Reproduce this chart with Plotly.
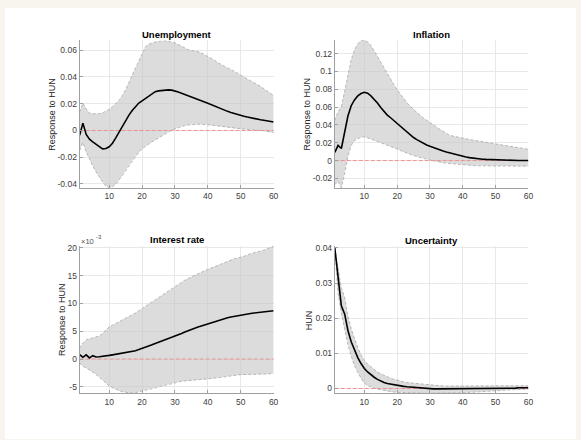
import plotly.graph_objects as go

# Forecast horizon (periods after the shock)
horizon = list(range(1, 61))

# --- Unemployment response ---
unemp_mean = [-0.0036, 0.0055, -0.0030, -0.0065, -0.0085, -0.0100, -0.0120, -0.0137, -0.0135, -0.0122,
              -0.0095, -0.0055, -0.0010, 0.0035, 0.0075, 0.0115, 0.0150, 0.0182, 0.0205, 0.0222,
              0.0240, 0.0260, 0.0278, 0.0290, 0.0296, 0.0300, 0.0304, 0.0304, 0.0302, 0.0297,
              0.0288, 0.0278, 0.0268, 0.0258, 0.0249, 0.0240, 0.0232, 0.0223, 0.0213, 0.0204,
              0.0193, 0.0181, 0.0170, 0.0160, 0.0152, 0.0143, 0.0135, 0.0127, 0.0120, 0.0113,
              0.0107, 0.0101, 0.0095, 0.0089, 0.0084, 0.0080, 0.0077, 0.0073, 0.0069, 0.0064]
unemp_upper = [0.0137, 0.0205, 0.0160, 0.0130, 0.0125, 0.0124, 0.0126, 0.0132, 0.0142, 0.0158,
               0.0178, 0.0200, 0.0225, 0.0262, 0.0305, 0.0360, 0.0415, 0.0470, 0.0525, 0.0580,
               0.0625, 0.0645, 0.0656, 0.0662, 0.0666, 0.0670, 0.0670, 0.0668, 0.0664, 0.0655,
               0.0643, 0.0628, 0.0614, 0.0604, 0.0598, 0.0594, 0.0590, 0.0580, 0.0568, 0.0556,
               0.0542, 0.0526, 0.0508, 0.0493, 0.0480, 0.0468, 0.0457, 0.0442, 0.0425, 0.0410,
               0.0396, 0.0385, 0.0372, 0.0360, 0.0347, 0.0330, 0.0313, 0.0295, 0.0277, 0.0262]
unemp_lower = [-0.0150, -0.0090, -0.0160, -0.0215, -0.0265, -0.0310, -0.0350, -0.0385, -0.0415, -0.0428,
               -0.0420, -0.0400, -0.0370, -0.0335, -0.0300, -0.0262, -0.0225, -0.0192, -0.0162, -0.0137,
               -0.0118, -0.0100, -0.0085, -0.0070, -0.0055, -0.0040, -0.0025, -0.0010, 0.0002, 0.0012,
               0.0022, 0.0031, 0.0037, 0.0041, 0.0044, 0.0046, 0.0047, 0.0047, 0.0046, 0.0043,
               0.0040, 0.0037, 0.0034, 0.0031, 0.0027, 0.0023, 0.0020, 0.0016, 0.0013, 0.0010,
               0.0008, 0.0006, 0.0005, 0.0004, 0.0003, 0.0001, -0.0002, -0.0006, -0.0011, -0.0016]

# --- Inflation response ---
infl_mean = [0.0092, 0.0170, 0.0135, 0.0300, 0.0500, 0.0615, 0.0680, 0.0725, 0.0752, 0.0765,
             0.0755, 0.0725, 0.0688, 0.0645, 0.0595, 0.0548, 0.0510, 0.0480, 0.0448, 0.0412,
             0.0378, 0.0345, 0.0312, 0.0285, 0.0258, 0.0235, 0.0213, 0.0193, 0.0175, 0.0160,
             0.0145, 0.0130, 0.0118, 0.0106, 0.0095, 0.0085, 0.0074, 0.0064, 0.0055, 0.0046,
             0.0039, 0.0033, 0.0027, 0.0022, 0.0018, 0.0015, 0.0013, 0.0011, 0.0009, 0.0007,
             0.0006, 0.0005, 0.0004, 0.0003, 0.0002, 0.0002, 0.0001, 0.0001, 0.0000, 0.0000]
infl_upper = [0.0450, 0.0550, 0.0600, 0.0780, 0.0980, 0.1130, 0.1240, 0.1310, 0.1345, 0.1348,
              0.1330, 0.1290, 0.1230, 0.1165, 0.1100, 0.1035, 0.0970, 0.0910, 0.0852, 0.0795,
              0.0742, 0.0692, 0.0648, 0.0608, 0.0572, 0.0538, 0.0507, 0.0478, 0.0450, 0.0425,
              0.0400, 0.0375, 0.0350, 0.0325, 0.0300, 0.0285, 0.0274, 0.0265, 0.0256, 0.0248,
              0.0242, 0.0236, 0.0230, 0.0223, 0.0217, 0.0211, 0.0204, 0.0198, 0.0192, 0.0186,
              0.0180, 0.0174, 0.0168, 0.0162, 0.0156, 0.0150, 0.0144, 0.0138, 0.0132, 0.0126]
infl_lower = [-0.0270, -0.0233, -0.0305, -0.0150, 0.0050, 0.0170, 0.0225, 0.0248, 0.0262, 0.0267,
              0.0258, 0.0243, 0.0228, 0.0215, 0.0203, 0.0190, 0.0176, 0.0162, 0.0146, 0.0130,
              0.0114, 0.0097, 0.0081, 0.0068, 0.0056, 0.0044, 0.0033, 0.0024, 0.0015, 0.0006,
              -0.0003, -0.0011, -0.0018, -0.0024, -0.0030, -0.0034, -0.0038, -0.0041, -0.0044, -0.0047,
              -0.0050, -0.0053, -0.0056, -0.0058, -0.0059, -0.0060, -0.0061, -0.0062, -0.0063, -0.0063,
              -0.0063, -0.0064, -0.0064, -0.0064, -0.0064, -0.0064, -0.0064, -0.0063, -0.0063, -0.0063]

# --- Interest rate response (in units of 10^-3) ---
rate_mean_e3 = [0.77, 0.30, 0.75, 0.20, 0.60, 0.36, 0.40, 0.45, 0.55, 0.65,
                0.75, 0.85, 0.97, 1.05, 1.10, 1.20, 1.32, 1.50, 1.70, 1.95,
                2.15, 2.35, 2.55, 2.80, 3.05, 3.25, 3.48, 3.70, 3.90, 4.10,
                4.35, 4.60, 4.85, 5.10, 5.35, 5.55, 5.75, 5.95, 6.15, 6.35,
                6.55, 6.75, 6.95, 7.15, 7.30, 7.45, 7.58, 7.70, 7.80, 7.90,
                8.00, 8.10, 8.20, 8.28, 8.36, 8.44, 8.50, 8.56, 8.62, 8.68]
rate_upper_e3 = [1.96, 2.86, 3.45, 3.60, 3.75, 3.95, 4.16, 4.60, 5.20, 5.80,
                 6.10, 6.40, 6.70, 7.05, 7.40, 7.65, 7.90, 8.30, 8.70, 9.10,
                 9.50, 9.90, 10.30, 10.70, 11.10, 11.50, 11.90, 12.30, 12.70, 13.10,
                 13.50, 13.90, 14.20, 14.50, 14.80, 15.05, 15.30, 15.60, 15.90, 16.15,
                 16.40, 16.65, 16.90, 17.10, 17.40, 17.65, 17.90, 18.05, 18.20, 18.30,
                 18.50, 18.75, 19.00, 19.15, 19.30, 19.40, 19.60, 19.85, 20.10, 20.35]
rate_lower_e3 = [-0.70, -1.30, -1.60, -1.90, -2.35, -2.80, -3.25, -3.70, -4.30, -4.90,
                 -5.20, -5.50, -5.70, -5.90, -6.00, -6.10, -6.15, -6.05, -5.95, -5.80,
                 -5.65, -5.50, -5.40, -5.25, -5.05, -4.90, -4.75, -4.55, -4.40, -4.25,
                 -4.10, -4.00, -3.95, -3.90, -3.85, -3.80, -3.75, -3.70, -3.68, -3.65,
                 -3.60, -3.50, -3.40, -3.30, -3.20, -3.10, -3.00, -2.92, -2.85, -2.80,
                 -2.80, -2.80, -2.80, -2.80, -2.80, -2.78, -2.75, -2.70, -2.65, -2.60]

# --- Uncertainty response ---
unc_mean = [0.0400, 0.0310, 0.0235, 0.0212, 0.0165, 0.0133, 0.0108, 0.0088, 0.0071, 0.0057,
            0.0047, 0.0039, 0.0032, 0.0026, 0.0021, 0.0017, 0.0014, 0.0012, 0.0010, 0.0008,
            0.0007, 0.0006, 0.0005, 0.0004, 0.0003, 0.0002, 0.0001, 0.0001, 0.0000, 0.0000,
            -0.0001, -0.0001, -0.0001, -0.0001, -0.0001, -0.0001, -0.0001, -0.0001, -0.0001, -0.0001,
            -0.0001, -0.0001, -0.0001, -0.0001, -0.0001, 0.0000, 0.0000, 0.0000, 0.0000, 0.0000,
            0.0000, 0.0000, 0.0001, 0.0001, 0.0001, 0.0001, 0.0002, 0.0002, 0.0002, 0.0002]
unc_upper = [0.0400, 0.0340, 0.0285, 0.0260, 0.0205, 0.0170, 0.0140, 0.0116, 0.0096, 0.0080,
             0.0070, 0.0062, 0.0055, 0.0047, 0.0042, 0.0037, 0.0033, 0.0029, 0.0026, 0.0023,
             0.0021, 0.0019, 0.0017, 0.0016, 0.0014, 0.0013, 0.0012, 0.0011, 0.0010, 0.0009,
             0.0008, 0.0008, 0.0008, 0.0007, 0.0007, 0.0007, 0.0007, 0.0007, 0.0007, 0.0007,
             0.0007, 0.0007, 0.0007, 0.0007, 0.0007, 0.0007, 0.0007, 0.0007, 0.0007, 0.0007,
             0.0007, 0.0007, 0.0007, 0.0008, 0.0008, 0.0008, 0.0008, 0.0008, 0.0008, 0.0008]
unc_lower = [0.0400, 0.0270, 0.0215, 0.0165, 0.0125, 0.0092, 0.0065, 0.0045, 0.0028, 0.0015,
             0.0008, 0.0004, 0.0000, -0.0002, -0.0004, -0.0006, -0.0008, -0.0009, -0.0010, -0.0011,
             -0.0011, -0.0012, -0.0012, -0.0013, -0.0013, -0.0013, -0.0013, -0.0014, -0.0014, -0.0014,
             -0.0014, -0.0014, -0.0014, -0.0014, -0.0014, -0.0014, -0.0013, -0.0013, -0.0013, -0.0012,
             -0.0012, -0.0011, -0.0011, -0.0010, -0.0009, -0.0009, -0.0008, -0.0008, -0.0007, -0.0007,
             -0.0006, -0.0005, -0.0005, -0.0004, -0.0004, -0.0003, -0.0003, -0.0002, -0.0002, -0.0002]

# Panel definitions: title, y-axis title, data, y range, y ticks, tick labels
panels = [
    dict(title="Unemployment", ylab="Response to HUN",
         mean=unemp_mean, upper=unemp_upper, lower=unemp_lower,
         yrange=[-0.043, 0.0674],
         yticks=[-0.04, -0.02, 0, 0.02, 0.04, 0.06],
         ytext=["-0.04", "-0.02", "0", "0.02", "0.04", "0.06"]),
    dict(title="Inflation", ylab="Response to HUN",
         mean=infl_mean, upper=infl_upper, lower=infl_lower,
         yrange=[-0.0308, 0.1348],
         yticks=[-0.02, 0, 0.02, 0.04, 0.06, 0.08, 0.1, 0.12],
         ytext=["-0.02", "0", "0.02", "0.04", "0.06", "0.08", "0.1", "0.12"]),
    dict(title="Interest rate", ylab="Response to HUN",
         mean=rate_mean_e3, upper=rate_upper_e3, lower=rate_lower_e3,
         yrange=[-6.2, 20.4],
         yticks=[-5, 0, 5, 10, 15, 20],
         ytext=["-5", "0", "5", "10", "15", "20"]),
    dict(title="Uncertainty", ylab="HUN",
         mean=unc_mean, upper=unc_upper, lower=unc_lower,
         yrange=[-0.0014, 0.04045],
         yticks=[0, 0.01, 0.02, 0.03, 0.04],
         ytext=["0", "0.01", "0.02", "0.03", "0.04"]),
]

W, H = 581, 440
# Plot-area boxes in pixels: (left, right, top, bottom)
boxes = [(80.3, 276.0, 37.7, 186.7),
         (337.7, 533.0, 37.7, 186.7),
         (80.3, 276.0, 245.0, 394.0),
         (337.7, 533.0, 245.5, 394.0)]
ylab_x = [53, 310, 62, 312]

FONT = "Liberation Sans, Arial, Helvetica, sans-serif"
AXIS_COL = "#a0a0a0"
GRID_COL = "#e8e8e8"

fig = go.Figure()
annotations = []
layout_axes = {}

for i, (p, box) in enumerate(zip(panels, boxes)):
    n = "" if i == 0 else str(i + 1)
    xref, yref = "x" + n, "y" + n
    l, r, t, b = box

    # shaded credible band
    fig.add_trace(go.Scatter(
        x=horizon + horizon[::-1], y=p["upper"] + p["lower"][::-1],
        fill="toself", fillcolor="rgba(198,198,198,0.62)",
        line=dict(width=0), mode="lines", hoverinfo="skip", showlegend=False,
        xaxis=xref, yaxis=yref))
    # dashed band edges
    for edge in (p["upper"], p["lower"]):
        fig.add_trace(go.Scatter(
            x=horizon, y=edge, mode="lines",
            line=dict(color="#a8a8a8", width=0.8, dash="3px,2px"),
            showlegend=False, xaxis=xref, yaxis=yref))
    # zero reference line
    fig.add_trace(go.Scatter(
        x=[horizon[0], horizon[-1]], y=[0, 0], mode="lines",
        line=dict(color="#f08a8a", width=0.9, dash="4px,2px"),
        showlegend=False, xaxis=xref, yaxis=yref))
    # median response
    fig.add_trace(go.Scatter(
        x=horizon, y=p["mean"], mode="lines",
        line=dict(color="black", width=1.6),
        showlegend=False, xaxis=xref, yaxis=yref))

    common = dict(showline=True, linecolor=AXIS_COL, linewidth=1, mirror=False,
                  ticks="inside", ticklen=3, tickcolor=AXIS_COL, tickwidth=1,
                  showgrid=True, gridcolor=GRID_COL, gridwidth=1, zeroline=False,
                  tickfont=dict(family=FONT, size=8.5, color="#404040"),
                  fixedrange=True)
    layout_axes["xaxis" + n] = dict(
        common, domain=[l / W, r / W], anchor=yref, range=[1, 60],
        tickvals=[10, 20, 30, 40, 50, 60])
    layout_axes["yaxis" + n] = dict(
        common, domain=[1 - b / H, 1 - t / H], anchor=xref, range=p["yrange"],
        tickvals=p["yticks"], ticktext=p["ytext"])

    # panel title
    annotations.append(dict(
        text="<b>%s</b>" % p["title"], xref="paper", yref="paper",
        x=(l + r) / 2 / W, y=1 - (t - 6) / H, xanchor="center", yanchor="middle",
        showarrow=False, font=dict(family=FONT, size=9.5, color="black")))
    # y-axis title
    annotations.append(dict(
        text=p["ylab"], xref="paper", yref="paper", textangle=-90,
        x=ylab_x[i] / W, y=1 - (t + b) / 2 / H, xanchor="center", yanchor="middle",
        showarrow=False, font=dict(family=FONT, size=9, color="#262626")))

# exponent marker on the interest-rate axis: "×10" with a raised "-3"
annotations.append(dict(
    text="\u00d710", xref="paper", yref="paper",
    x=81 / W, y=1 - 246 / H, xanchor="left", yanchor="bottom", borderpad=0,
    showarrow=False, font=dict(family=FONT, size=7.5, color="#505050")))
annotations.append(dict(
    text="-3", xref="paper", yref="paper",
    x=96 / W, y=1 - 240 / H, xanchor="left", yanchor="bottom", borderpad=0,
    showarrow=False, font=dict(family=FONT, size=6, color="#505050")))

fig.update_layout(
    width=W, height=H,
    margin=dict(l=0, r=0, t=0, b=0),
    paper_bgcolor="#f8f4ee",
    plot_bgcolor="white",
    annotations=annotations,
    shapes=[dict(type="rect", xref="paper", yref="paper",
                 x0=5 / W, x1=1, y0=0, y1=1 - 5 / H,
                 fillcolor="white", line=dict(width=0), layer="below")],
    **layout_axes)

fig.write_html("out.html")
